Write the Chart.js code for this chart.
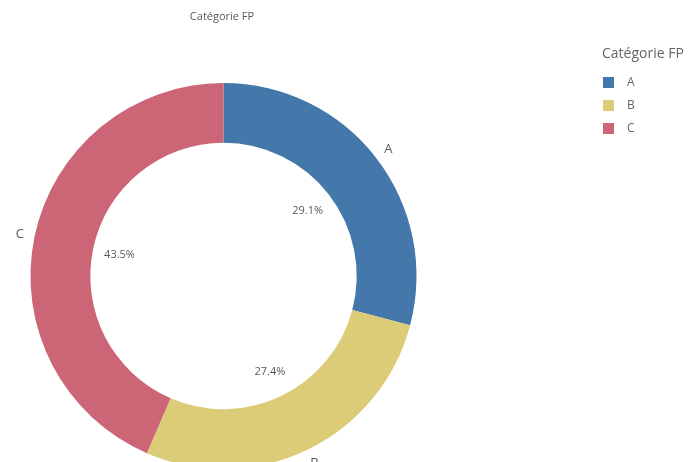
<!DOCTYPE html>
<html>
<head>
<meta charset="utf-8">
<script src="https://cdn.jsdelivr.net/npm/chart.js@4"></script>
<style>
  html, body { margin: 0; padding: 0; background: #fff; overflow: hidden; }
  #wrap { width: 698px; height: 470px; }
</style>
</head>
<body>
<div id="wrap"><canvas id="donut" width="698" height="470"></canvas></div>
<script>
const categories = ['A', 'B', 'C'];
const shares = [29.1, 27.4, 43.5];
const colors = ['#4477aa', '#ddcc77', '#cc6677'];
const chartTitle = 'Catégorie FP';
const legendTitle = 'Catégorie FP';

const FONT = '"Open Sans", "DejaVu Sans", sans-serif';

// labels on the arcs, title and legend drawn on the canvas
const decorations = {
    id: 'decorations',
    afterDraw(chart) {
        const ctx = chart.ctx;
        const meta = chart.getDatasetMeta(0);
        ctx.save();
        ctx.textAlign = 'center';
        ctx.textBaseline = 'middle';

        meta.data.forEach((arc, i) => {
            const p = arc.getProps(['x', 'y', 'startAngle', 'endAngle', 'innerRadius', 'outerRadius'], true);
            const mid = (p.startAngle + p.endAngle) / 2;
            // percentage inside the hole
            const rIn = p.innerRadius - 27;
            ctx.fillStyle = '#595959';
            ctx.font = '11px ' + FONT;
            ctx.fillText(shares[i].toFixed(1) + '%', p.x + Math.cos(mid) * rIn, p.y + Math.sin(mid) * rIn);
            // category outside the ring
            const rOut = p.outerRadius + 15;
            ctx.font = '13px ' + FONT;
            ctx.fillText(categories[i], p.x + Math.cos(mid) * rOut, p.y + Math.sin(mid) * rOut);
        });

        // chart title
        ctx.fillStyle = '#595959';
        ctx.font = '11px ' + FONT;
        ctx.fillText(chartTitle, 222, 17);

        // legend
        ctx.textAlign = 'left';
        ctx.fillStyle = '#666';
        ctx.font = '14px ' + FONT;
        ctx.fillText(legendTitle, 602, 54);
        ctx.font = '12px ' + FONT;
        categories.forEach((c, i) => {
            const y = 82 + i * 23;
            ctx.fillStyle = colors[i];
            ctx.fillRect(603, y - 5, 11, 11);
            ctx.fillStyle = '#666';
            ctx.fillText(c, 627, y + 1);
        });
        ctx.restore();
    }
};

new Chart(document.getElementById('donut').getContext('2d'), {
    type: 'doughnut',
    data: {
        labels: categories,
        datasets: [{
            data: shares,
            backgroundColor: colors,
            borderWidth: 0,
            hoverOffset: 0
        }]
    },
    options: {
        responsive: false,
        animation: false,
        cutout: '69%',
        layout: { padding: { left: 30, top: 83, right: 281, bottom: 1 } },
        plugins: {
            legend: { display: false },
            title: { display: false },
            tooltip: { enabled: false }
        }
    },
    plugins: [decorations]
});
</script>
</body>
</html>
